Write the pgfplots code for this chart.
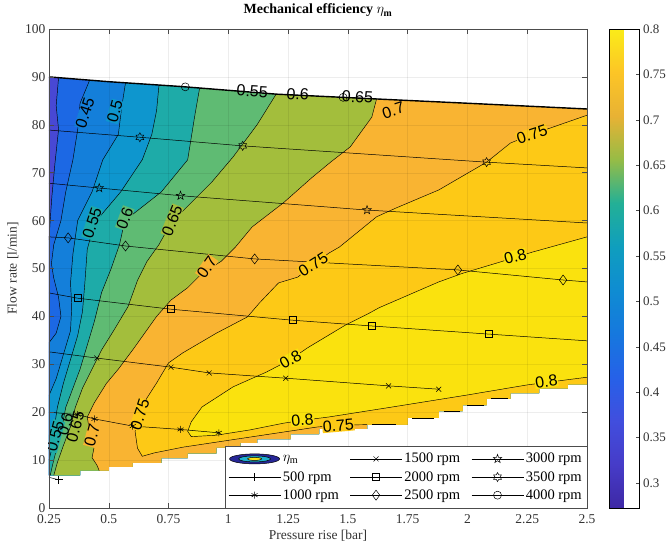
\documentclass[border=0pt]{standalone}
\usepackage{fontspec}
\setmainfont{Liberation Serif}
\newfontfamily\helv{Liberation Sans}
\usepackage{pgfplots}
\pgfplotsset{compat=1.18}
\usetikzlibrary{plotmarks}
\definecolor{c0}{RGB}{72,72,212}
\definecolor{c40}{RGB}{28,104,228}
\definecolor{c45}{RGB}{20,127,218}
\definecolor{c50}{RGB}{14,150,206}
\definecolor{c55}{RGB}{30,171,168}
\definecolor{c60}{RGB}{95,187,115}
\definecolor{c65}{RGB}{163,190,60}
\definecolor{c70}{RGB}{249,180,50}
\definecolor{c75}{RGB}{253,201,22}
\definecolor{c80}{RGB}{250,226,14}
\newcommand\clab{\helv\fontsize{16}{16}\selectfont}
\pgfdeclareplotmark{pentagram}{%
  \pgfpathmoveto{\pgfpointpolar{90}{\pgfplotmarksize}}%
  \pgfpathlineto{\pgfpointpolar{126}{0.4\pgfplotmarksize}}%
  \pgfpathlineto{\pgfpointpolar{162}{\pgfplotmarksize}}%
  \pgfpathlineto{\pgfpointpolar{198}{0.4\pgfplotmarksize}}%
  \pgfpathlineto{\pgfpointpolar{234}{\pgfplotmarksize}}%
  \pgfpathlineto{\pgfpointpolar{270}{0.4\pgfplotmarksize}}%
  \pgfpathlineto{\pgfpointpolar{306}{\pgfplotmarksize}}%
  \pgfpathlineto{\pgfpointpolar{342}{0.4\pgfplotmarksize}}%
  \pgfpathlineto{\pgfpointpolar{18}{\pgfplotmarksize}}%
  \pgfpathlineto{\pgfpointpolar{54}{0.4\pgfplotmarksize}}%
  \pgfpathclose\pgfusepathqstroke}
\pgfdeclareplotmark{hexagram}{%
  \pgfpathmoveto{\pgfpointpolar{90}{\pgfplotmarksize}}%
  \pgfpathlineto{\pgfpointpolar{120}{0.577\pgfplotmarksize}}%
  \pgfpathlineto{\pgfpointpolar{150}{\pgfplotmarksize}}%
  \pgfpathlineto{\pgfpointpolar{180}{0.577\pgfplotmarksize}}%
  \pgfpathlineto{\pgfpointpolar{210}{\pgfplotmarksize}}%
  \pgfpathlineto{\pgfpointpolar{240}{0.577\pgfplotmarksize}}%
  \pgfpathlineto{\pgfpointpolar{270}{\pgfplotmarksize}}%
  \pgfpathlineto{\pgfpointpolar{300}{0.577\pgfplotmarksize}}%
  \pgfpathlineto{\pgfpointpolar{330}{\pgfplotmarksize}}%
  \pgfpathlineto{\pgfpointpolar{0}{0.577\pgfplotmarksize}}%
  \pgfpathlineto{\pgfpointpolar{30}{\pgfplotmarksize}}%
  \pgfpathlineto{\pgfpointpolar{60}{0.577\pgfplotmarksize}}%
  \pgfpathclose\pgfusepathqstroke}
\begin{document}
\begin{tikzpicture}
\begin{axis}[
  width=538pt, height=479pt, scale only axis,
  xmin=0.25, xmax=2.5, ymin=0, ymax=100,
  xtick={0.25,0.5,0.75,1,1.25,1.5,1.75,2,2.25,2.5},
  ytick={0,10,20,30,40,50,60,70,80,90,100},
  /pgf/number format/assume math mode=true,
  tick label style={font=\fontsize{13.5}{13.5}\selectfont, black!80},
  xticklabel style={yshift=-3pt},
  label style={font=\fontsize{13.5}{14}\selectfont, black!80},
  xlabel={Pressure rise [bar]},
  ylabel={Flow rate [l/min]},
  title={\textbf{Mechanical efficiency $\eta_{\mathbf{m}}$}},
  title style={font=\fontsize{14}{14}\selectfont, at={(0.5,1)}, anchor=base, yshift=9pt},
  axis on top,
  grid=major, major grid style={black, opacity=0.07, line width=0.4pt},
  major tick length=5pt, tick style={black!70, line width=0.5pt},
  axis line style={line width=0.6pt, black!70},
  point meta min=0.2725, point meta max=0.8,
  colormap={pmap}{rgb255=(62,40,165) rgb255=(70,60,200) rgb255=(65,78,222) rgb255=(38,97,232) rgb255=(22,120,222) rgb255=(15,140,210) rgb255=(15,158,190) rgb255=(35,176,150) rgb255=(150,188,70) rgb255=(232,178,52) rgb255=(252,197,38) rgb255=(250,236,25)},
  colorbar,
  colorbar style={at={(parent axis.north east)}, anchor=north west, xshift=14pt,
    width=30pt, grid=none,
    ytick={0.3,0.35,0.4,0.45,0.5,0.55,0.6,0.65,0.7,0.75,0.8},
    ytick pos=right, yticklabel pos=right, tick align=inside,
    major tick length=4pt,
    yticklabel style={font=\fontsize{13}{13}\selectfont, black!80, /pgf/number format/assume math mode=true}},
  legend columns=3,
  legend cell align=left,
  legend style={at={(1,0)}, anchor=south east, draw=black!70, line width=0.5pt,
    font=\fontsize{14.5}{15}\selectfont, inner xsep=3pt, inner ysep=5pt, row sep=3pt,
    /tikz/every even column/.append style={column sep=9pt}},
  legend image code/.code={\draw[mark repeat=2,mark phase=2,#1] plot coordinates {(0pt,0pt) (26pt,0pt) (52pt,0pt)};},
]
% domain
\addplot[fill=c0, draw=none, forget plot] coordinates {(0.25,90.0) (0.25,6.8) (0.38,6.8) (0.38,7.8) (0.50,7.8) (0.50,8.6) (0.60,8.6) (0.60,9.4) (0.72,9.4) (0.72,10.4) (0.83,10.4) (0.83,11.4) (0.95,11.4) (0.95,12.6) (1.05,12.6) (1.05,13.6) (1.12,13.6) (1.12,14.4) (1.26,14.4) (1.26,15.4) (1.38,15.4) (1.38,16.5) (1.58,16.5) (1.58,17.4) (1.75,17.4) (1.75,18.8) (1.88,18.8) (1.88,20.2) (1.98,20.2) (1.98,21.5) (2.08,21.5) (2.08,22.8) (2.18,22.8) (2.18,24.0) (2.30,24.0) (2.30,25.0) (2.42,25.0) (2.42,25.8) (2.5,25.8) (2.5,83.3) (2.25,83.9) (2.0,84.5) (1.7,85.2) (1.45,85.8) (1.2,86.4) (1.0,87.2) (0.8,88.0) (0.5,89.0)};
% >=0.40
\addplot[fill=c40, draw=none, forget plot] coordinates {(0.29,89.84) (0.28,84) (0.29,79) (0.275,72) (0.262,65) (0.255,60) (0.25,56) (0.25,6.8) (0.38,6.8) (0.38,7.8) (0.50,7.8) (0.50,8.6) (0.60,8.6) (0.60,9.4) (0.72,9.4) (0.72,10.4) (0.83,10.4) (0.83,11.4) (0.95,11.4) (0.95,12.6) (1.05,12.6) (1.05,13.6) (1.12,13.6) (1.12,14.4) (1.26,14.4) (1.26,15.4) (1.38,15.4) (1.38,16.5) (1.58,16.5) (1.58,17.4) (1.75,17.4) (1.75,18.8) (1.88,18.8) (1.88,20.2) (1.98,20.2) (1.98,21.5) (2.08,21.5) (2.08,22.8) (2.18,22.8) (2.18,24.0) (2.30,24.0) (2.30,25.0) (2.42,25.0) (2.42,25.8) (2.5,25.8) (2.5,83.3) (2.25,83.9) (2.0,84.5) (1.7,85.2) (1.45,85.8) (1.2,86.4) (1.0,87.2) (0.8,88.0) (0.5,89.0)};
% >=0.45
\addplot[fill=c45, draw=none, forget plot] coordinates {(0.42,89.32) (0.38,84.5) (0.37,79) (0.35,72.7) (0.32,66) (0.30,60) (0.27,55) (0.26,51) (0.27,48) (0.29,44) (0.30,40) (0.28,36.5) (0.25,34.5) (0.25,6.8) (0.38,6.8) (0.38,7.8) (0.50,7.8) (0.50,8.6) (0.60,8.6) (0.60,9.4) (0.72,9.4) (0.72,10.4) (0.83,10.4) (0.83,11.4) (0.95,11.4) (0.95,12.6) (1.05,12.6) (1.05,13.6) (1.12,13.6) (1.12,14.4) (1.26,14.4) (1.26,15.4) (1.38,15.4) (1.38,16.5) (1.58,16.5) (1.58,17.4) (1.75,17.4) (1.75,18.8) (1.88,18.8) (1.88,20.2) (1.98,20.2) (1.98,21.5) (2.08,21.5) (2.08,22.8) (2.18,22.8) (2.18,24.0) (2.30,24.0) (2.30,25.0) (2.42,25.0) (2.42,25.8) (2.5,25.8) (2.5,83.3) (2.25,83.9) (2.0,84.5) (1.7,85.2) (1.45,85.8) (1.2,86.4) (1.0,87.2) (0.8,88.0) (0.5,89.0)};
% >=0.50
\addplot[fill=c50, draw=none, forget plot] coordinates {(0.57,88.77) (0.555,84) (0.54,78) (0.475,72.7) (0.43,66) (0.37,60) (0.35,53) (0.34,47) (0.345,42) (0.34,37) (0.31,32) (0.28,27) (0.25,23.5) (0.25,6.8) (0.38,6.8) (0.38,7.8) (0.50,7.8) (0.50,8.6) (0.60,8.6) (0.60,9.4) (0.72,9.4) (0.72,10.4) (0.83,10.4) (0.83,11.4) (0.95,11.4) (0.95,12.6) (1.05,12.6) (1.05,13.6) (1.12,13.6) (1.12,14.4) (1.26,14.4) (1.26,15.4) (1.38,15.4) (1.38,16.5) (1.58,16.5) (1.58,17.4) (1.75,17.4) (1.75,18.8) (1.88,18.8) (1.88,20.2) (1.98,20.2) (1.98,21.5) (2.08,21.5) (2.08,22.8) (2.18,22.8) (2.18,24.0) (2.30,24.0) (2.30,25.0) (2.42,25.0) (2.42,25.8) (2.5,25.8) (2.5,83.3) (2.25,83.9) (2.0,84.5) (1.7,85.2) (1.45,85.8) (1.2,86.4) (1.0,87.2) (0.8,88.0)};
% >=0.55
\addplot[fill=c55, draw=none, forget plot] coordinates {(0.71,88.30) (0.70,83) (0.68,78) (0.64,72.7) (0.55,66) (0.44,59.5) (0.41,54) (0.40,47) (0.39,41) (0.37,36) (0.34,31) (0.31,26) (0.285,21) (0.27,16) (0.26,12) (0.25,10) (0.25,6.8) (0.38,6.8) (0.38,7.8) (0.50,7.8) (0.50,8.6) (0.60,8.6) (0.60,9.4) (0.72,9.4) (0.72,10.4) (0.83,10.4) (0.83,11.4) (0.95,11.4) (0.95,12.6) (1.05,12.6) (1.05,13.6) (1.12,13.6) (1.12,14.4) (1.26,14.4) (1.26,15.4) (1.38,15.4) (1.38,16.5) (1.58,16.5) (1.58,17.4) (1.75,17.4) (1.75,18.8) (1.88,18.8) (1.88,20.2) (1.98,20.2) (1.98,21.5) (2.08,21.5) (2.08,22.8) (2.18,22.8) (2.18,24.0) (2.30,24.0) (2.30,25.0) (2.42,25.0) (2.42,25.8) (2.5,25.8) (2.5,83.3) (2.25,83.9) (2.0,84.5) (1.7,85.2) (1.45,85.8) (1.2,86.4) (1.0,87.2) (0.8,88.0)};
% >=0.60
\addplot[fill=c60, draw=none, forget plot] coordinates {(0.88,87.68) (0.86,82) (0.83,72.7) (0.72,66) (0.567,60) (0.545,55) (0.51,50) (0.47,45) (0.44,39) (0.41,34) (0.38,29) (0.35,25) (0.32,21) (0.305,17) (0.285,13) (0.265,9) (0.255,6.8) (0.38,6.8) (0.38,7.8) (0.50,7.8) (0.50,8.6) (0.60,8.6) (0.60,9.4) (0.72,9.4) (0.72,10.4) (0.83,10.4) (0.83,11.4) (0.95,11.4) (0.95,12.6) (1.05,12.6) (1.05,13.6) (1.12,13.6) (1.12,14.4) (1.26,14.4) (1.26,15.4) (1.38,15.4) (1.38,16.5) (1.58,16.5) (1.58,17.4) (1.75,17.4) (1.75,18.8) (1.88,18.8) (1.88,20.2) (1.98,20.2) (1.98,21.5) (2.08,21.5) (2.08,22.8) (2.18,22.8) (2.18,24.0) (2.30,24.0) (2.30,25.0) (2.42,25.0) (2.42,25.8) (2.5,25.8) (2.5,83.3) (2.25,83.9) (2.0,84.5) (1.7,85.2) (1.45,85.8) (1.2,86.4) (1.0,87.2)};
% >=0.65
\addplot[fill=c65, draw=none, forget plot] coordinates {(1.20,86.40) (1.12,80) (1.02,73.3) (0.93,68) (0.84,63.5) (0.76,59.5) (0.71,55) (0.66,51.5) (0.62,47.5) (0.58,42) (0.52,37) (0.47,33) (0.43,29) (0.39,25) (0.36,21) (0.34,17) (0.31,13) (0.285,9.5) (0.27,6.8) (0.38,6.8) (0.38,7.8) (0.50,7.8) (0.50,8.6) (0.60,8.6) (0.60,9.4) (0.72,9.4) (0.72,10.4) (0.83,10.4) (0.83,11.4) (0.95,11.4) (0.95,12.6) (1.05,12.6) (1.05,13.6) (1.12,13.6) (1.12,14.4) (1.26,14.4) (1.26,15.4) (1.38,15.4) (1.38,16.5) (1.58,16.5) (1.58,17.4) (1.75,17.4) (1.75,18.8) (1.88,18.8) (1.88,20.2) (1.98,20.2) (1.98,21.5) (2.08,21.5) (2.08,22.8) (2.18,22.8) (2.18,24.0) (2.30,24.0) (2.30,25.0) (2.42,25.0) (2.42,25.8) (2.5,25.8) (2.5,83.3) (2.25,83.9) (2.0,84.5) (1.7,85.2) (1.45,85.8)};
% >=0.70
\addplot[fill=c70, draw=none, forget plot] coordinates {(1.62,85.39) (1.60,81.6) (1.51,75.4) (1.43,72.3) (1.35,69) (1.23,63.7) (1.10,58.7) (1.03,54.5) (0.97,51.5) (0.89,49) (0.83,46) (0.76,43.4) (0.70,40) (0.65,36.5) (0.60,33) (0.54,29) (0.49,26) (0.44,22) (0.41,19) (0.42,16) (0.44,13) (0.43,10.5) (0.45,9) (0.46,7.8) (0.50,7.8) (0.50,8.6) (0.60,8.6) (0.60,9.4) (0.72,9.4) (0.72,10.4) (0.83,10.4) (0.83,11.4) (0.95,11.4) (0.95,12.6) (1.05,12.6) (1.05,13.6) (1.12,13.6) (1.12,14.4) (1.26,14.4) (1.26,15.4) (1.38,15.4) (1.38,16.5) (1.58,16.5) (1.58,17.4) (1.75,17.4) (1.75,18.8) (1.88,18.8) (1.88,20.2) (1.98,20.2) (1.98,21.5) (2.08,21.5) (2.08,22.8) (2.18,22.8) (2.18,24.0) (2.30,24.0) (2.30,25.0) (2.42,25.0) (2.42,25.8) (2.5,25.8) (2.5,83.3) (2.25,83.9) (2.0,84.5) (1.7,85.2)};
% >=0.75
\addplot[fill=c75, draw=none, forget plot] coordinates {(2.5,82.0) (2.27,78) (2.18,76.2) (2.08,72.2) (1.88,66.4) (1.70,62.6) (1.62,60.8) (1.465,54.5) (1.42,53.2) (1.29,48.2) (1.21,47) (1.13,42.8) (1.08,39.9) (0.95,36.5) (0.81,32.4) (0.75,30.3) (0.70,26.1) (0.66,23) (0.63,20) (0.61,16) (0.62,12.5) (0.64,10.8) (0.69,11.5) (0.75,12.1) (0.81,12.7) (1.09,14.8) (1.37,16.9) (1.45,17.3) (1.58,17.4) (1.75,17.4) (1.75,18.8) (1.88,18.8) (1.88,20.2) (1.98,20.2) (1.98,21.5) (2.08,21.5) (2.08,22.8) (2.18,22.8) (2.18,24.0) (2.30,24.0) (2.30,25.0) (2.42,25.0) (2.42,25.8) (2.5,25.8)};
% >=0.80
\addplot[fill=c80, draw=none, forget plot] coordinates {(2.5,56.6) (2.27,53.4) (2.12,51.1) (1.98,49) (1.88,47.2) (1.63,41.8) (1.59,40.7) (1.49,38.2) (1.33,33.4) (1.26,31) (1.16,28.4) (1.02,25.3) (0.89,21.1) (0.845,18) (0.83,16) (0.845,14.9) (0.95,15.2) (1.09,16.3) (1.23,17.7) (1.31,18.3) (1.42,19.0) (1.7,21.2) (2.0,23.6) (2.25,25.7) (2.5,27.3)};
% contour lines
\addplot[black, line width=0.45pt, forget plot] coordinates {(0.29,89.84) (0.28,84) (0.29,79) (0.275,72) (0.262,65) (0.255,60) (0.25,56)};
\addplot[black, line width=0.45pt, forget plot] coordinates {(0.42,89.32) (0.38,84.5) (0.37,79) (0.35,72.7) (0.32,66) (0.30,60) (0.27,55) (0.26,51) (0.27,48) (0.29,44) (0.30,40) (0.28,36.5) (0.25,34.5)};
\addplot[black, line width=0.45pt, forget plot] coordinates {(0.57,88.77) (0.555,84) (0.54,78) (0.475,72.7) (0.43,66) (0.37,60) (0.35,53) (0.34,47) (0.345,42) (0.34,37) (0.31,32) (0.28,27) (0.25,23.5)};
\addplot[black, line width=0.45pt, forget plot] coordinates {(0.71,88.30) (0.70,83) (0.68,78) (0.64,72.7) (0.55,66) (0.44,59.5) (0.41,54) (0.40,47) (0.39,41) (0.37,36) (0.34,31) (0.31,26) (0.285,21) (0.27,16) (0.26,12) (0.25,10)};
\addplot[black, line width=0.45pt, forget plot] coordinates {(0.88,87.68) (0.86,82) (0.83,72.7) (0.72,66) (0.567,60) (0.545,55) (0.51,50) (0.47,45) (0.44,39) (0.41,34) (0.38,29) (0.35,25) (0.32,21) (0.305,17) (0.285,13) (0.265,9) (0.255,6.8)};
\addplot[black, line width=0.45pt, forget plot] coordinates {(1.20,86.40) (1.12,80) (1.02,73.3) (0.93,68) (0.84,63.5) (0.76,59.5) (0.71,55) (0.66,51.5) (0.62,47.5) (0.58,42) (0.52,37) (0.47,33) (0.43,29) (0.39,25) (0.36,21) (0.34,17) (0.31,13) (0.285,9.5) (0.27,6.8)};
\addplot[black, line width=0.45pt, forget plot] coordinates {(1.62,85.39) (1.60,81.6) (1.51,75.4) (1.43,72.3) (1.35,69) (1.23,63.7) (1.10,58.7) (1.03,54.5) (0.97,51.5) (0.89,49) (0.83,46) (0.76,43.4) (0.70,40) (0.65,36.5) (0.60,33) (0.54,29) (0.49,26) (0.44,22) (0.41,19) (0.42,16) (0.44,13) (0.43,10.5) (0.45,9) (0.46,7.8)};
\addplot[black, line width=0.45pt, forget plot] coordinates {(2.5,82.0) (2.27,78) (2.18,76.2) (2.08,72.2) (1.88,66.4) (1.70,62.6) (1.62,60.8) (1.465,54.5) (1.42,53.2) (1.29,48.2) (1.21,47) (1.13,42.8) (1.08,39.9) (0.95,36.5) (0.81,32.4) (0.75,30.3) (0.70,26.1) (0.66,23) (0.63,20) (0.61,16) (0.62,12.5) (0.64,10.8) (0.69,11.5) (0.75,12.1) (0.81,12.7) (1.09,14.8) (1.37,16.9) (1.45,17.3) (1.58,17.4)};
\addplot[black, line width=0.6pt, unbounded coords=jump, forget plot] coordinates {(1.60,17.4) (1.70,17.4) (1.75,nan) (1.77,18.8) (1.86,18.8) (1.88,nan) (1.90,20.2) (1.97,20.2) (1.98,nan) (2.00,21.5) (2.07,21.5) (2.08,nan) (2.10,22.8) (2.17,22.8)};
\addplot[black, line width=0.45pt, forget plot] coordinates {(2.5,56.6) (2.27,53.4) (2.12,51.1) (1.98,49) (1.88,47.2) (1.63,41.8) (1.59,40.7) (1.49,38.2) (1.33,33.4) (1.26,31) (1.16,28.4) (1.02,25.3) (0.89,21.1) (0.845,18) (0.83,16) (0.845,14.9) (0.95,15.2) (1.09,16.3) (1.23,17.7) (1.31,18.3) (1.42,19.0) (1.7,21.2) (2.0,23.6) (2.25,25.7) (2.5,27.3)};
% speed lines
\addplot[black, line width=0.5pt, mark=+, mark size=4pt, mark indices={2}, forget plot] coordinates {(0.25,6.4) (0.29,5.9)};
\addplot[black, line width=0.5pt, mark=asterisk, mark size=3.5pt, mark indices={2,3,4,5,6}, forget plot] coordinates {(0.25,20.0) (0.37,19.5) (0.44,18.6) (0.60,17.1) (0.80,16.4) (0.96,15.7)};
\addplot[black, line width=0.5pt, mark=x, mark size=3.5pt, mark indices={2,3,4,5,6,7}, forget plot] coordinates {(0.25,32.6) (0.45,31.3) (0.76,29.4) (0.92,28.2) (1.24,27.1) (1.67,25.5) (1.88,24.8)};
\addplot[black, line width=0.5pt, mark=square, mark size=3.5pt, mark indices={2,3,4,5,6}, forget plot] coordinates {(0.25,44.9) (0.37,43.8) (0.76,41.5) (1.27,39.2) (1.60,38.0) (2.09,36.3) (2.5,34.9)};
\addplot[black, line width=0.5pt, mark=diamond, mark size=5pt, mark indices={2,3,4,5,6}, forget plot] coordinates {(0.25,56.6) (0.33,56.4) (0.57,54.7) (1.11,52.0) (1.96,49.7) (2.40,47.6) (2.5,47.2)};
\addplot[black, line width=0.5pt, mark=pentagram, mark size=4.5pt, mark indices={2,3,4}, forget plot] coordinates {(0.25,67.8) (0.46,66.8) (0.80,65.2) (1.58,62.2) (2.5,59.5)};
\addplot[black, line width=0.5pt, mark=hexagram, mark size=4.5pt, mark indices={2,3,4}, forget plot] coordinates {(0.25,78.9) (0.63,77.4) (1.06,75.6) (2.08,72.2) (2.5,71.0)};
\addplot[black, line width=1.4pt, mark=o, mark size=4pt, mark options={line width=0.5pt}, mark indices={4,8}, forget plot] coordinates {(0.25,90.0) (0.5,89.0) (0.8,88.0) (0.82,87.92) (1.0,87.2) (1.2,86.4) (1.45,85.8) (1.48,85.73) (1.7,85.2) (2.0,84.5) (2.25,83.9) (2.5,83.3)};
% contour labels
\node[rotate=72, font=\clab, fill=c45, inner sep=0.5pt] at (axis cs:0.40,82.5) {0.45};
\node[rotate=75, font=\clab, fill=c50, inner sep=0.5pt] at (axis cs:0.525,82.8) {0.5};
\node[rotate=72, font=\clab, fill=c55, inner sep=0.5pt] at (axis cs:0.43,59.5) {0.55};
\node[rotate=70, font=\clab, fill=c60, inner sep=0.5pt] at (axis cs:0.567,60.5) {0.6};
\node[rotate=68, font=\clab, fill=c65, inner sep=0.5pt] at (axis cs:0.765,60) {0.65};
\node[rotate=55, font=\clab, fill=c70, inner sep=0.5pt] at (axis cs:0.91,50.3) {0.7};
\node[rotate=32, font=\clab, fill=c75, inner sep=0.5pt] at (axis cs:1.355,50.8) {0.75};
\node[rotate=18, font=\clab, fill=c70, inner sep=0.5pt] at (axis cs:1.69,83.0) {0.7};
\node[rotate=18, font=\clab, fill=c75, inner sep=0.5pt] at (axis cs:2.27,78.0) {0.75};
\node[rotate=15, font=\clab, fill=c80, inner sep=0.5pt] at (axis cs:2.20,52.5) {0.8};
\node[rotate=30, font=\clab, fill=c80, inner sep=0.5pt] at (axis cs:1.26,31.0) {0.8};
\node[rotate=5, font=\clab, fill=c80, inner sep=0.5pt] at (axis cs:1.31,18.4) {0.8};
\node[rotate=5, font=\clab, fill=c75, inner sep=0.5pt] at (axis cs:1.46,17.2) {0.75};
\node[rotate=8, font=\clab, fill=c80, inner sep=0.5pt] at (axis cs:2.33,26.4) {0.8};
\node[rotate=72, font=\clab, fill=c75, inner sep=0.5pt] at (axis cs:0.63,19.5) {0.75};
\node[rotate=75, font=\clab, fill=c55, inner sep=0.5pt] at (axis cs:0.275,15.0) {0.55};
\node[rotate=75, font=\clab, inner sep=0.5pt] at (axis cs:0.318,17.5) {0.6};
\node[rotate=75, font=\clab, inner sep=0.5pt] at (axis cs:0.36,17.0) {0.65};
\node[rotate=75, font=\clab, fill=c70, inner sep=0.5pt] at (axis cs:0.43,15.2) {0.7};
\node[rotate=-3, font=\clab, inner sep=0.5pt] at (axis cs:1.10,87.0) {0.55};
\node[rotate=-3, font=\clab, inner sep=0.5pt] at (axis cs:1.29,86.4) {0.6};
\node[rotate=-3, font=\clab, inner sep=0.5pt] at (axis cs:1.54,85.8) {0.65};
% legend
\addlegendimage{legend image code/.code={\fill[fill={rgb,255:red,38;green,38;blue,150}] (26pt,0pt) ellipse (25pt and 5pt); \fill[fill={rgb,255:red,30;green,175;blue,205}] (26pt,0pt) ellipse (16pt and 3pt); \fill[fill={rgb,255:red,250;green,225;blue,20}] (26pt,0pt) ellipse (7pt and 1.5pt);}}
\addlegendentry{$\eta_{\mathrm{m}}$}
\addlegendimage{black, line width=0.5pt, mark=x, mark size=3.5pt}
\addlegendentry{1500 rpm}
\addlegendimage{black, line width=0.5pt, mark=pentagram, mark size=4.5pt}
\addlegendentry{3000 rpm}
\addlegendimage{black, line width=0.5pt, mark=+, mark size=4pt}
\addlegendentry{500 rpm}
\addlegendimage{black, line width=0.5pt, mark=square, mark size=3.5pt}
\addlegendentry{2000 rpm}
\addlegendimage{black, line width=0.5pt, mark=hexagram, mark size=4.5pt}
\addlegendentry{3500 rpm}
\addlegendimage{black, line width=0.5pt, mark=asterisk, mark size=3.5pt}
\addlegendentry{1000 rpm}
\addlegendimage{black, line width=0.5pt, mark=diamond, mark size=5pt}
\addlegendentry{2500 rpm}
\addlegendimage{black, line width=0.5pt, mark=o, mark size=4pt}
\addlegendentry{4000 rpm}
\end{axis}
\pgfresetboundingbox
\path[use as bounding box] (current axis.south west) ++(-49pt,-39pt) rectangle ++(671pt,547pt);
\end{tikzpicture}
\end{document}
